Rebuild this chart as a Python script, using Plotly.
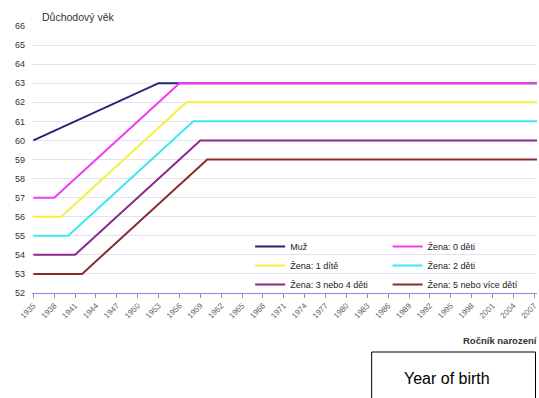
import plotly.graph_objects as go

# Retirement age by year of birth (breakpoints of each schedule)
muz_years = [1935, 1953, 2010]
muz_age = [60, 63, 63]

zena0_years = [1935, 1938, 1956, 2010]
zena0_age = [57, 57, 63, 63]

zena1_years = [1935, 1939, 1957, 2010]
zena1_age = [56, 56, 62, 62]

zena2_years = [1935, 1940, 1958, 2010]
zena2_age = [55, 55, 61, 61]

zena34_years = [1935, 1941, 1959, 2010]
zena34_age = [54, 54, 60, 60]

zena5_years = [1935, 1942, 1960, 2010]
zena5_age = [53, 53, 59, 59]

x_ticks = list(range(1935, 2008, 3))
y_ticks = list(range(52, 67))

# name, years, ages, colour, legend column
series = [
    ("Muž", muz_years, muz_age, "#23237a", "legend"),
    ("Žena: 0 děti", zena0_years, zena0_age, "#f03cf0", "legend2"),
    ("Žena: 1 dítě", zena1_years, zena1_age, "#f4f03c", "legend"),
    ("Žena: 2 děti", zena2_years, zena2_age, "#3ce8f0", "legend2"),
    ("Žena: 3 nebo 4 děti", zena34_years, zena34_age, "#8a2a8a", "legend"),
    ("Žena: 5 nebo více dětí", zena5_years, zena5_age, "#8c2b2b", "legend2"),
]

fig = go.Figure()
for name, xs, ys, color, leg in series:
    fig.add_trace(go.Scatter(
        x=xs, y=ys, mode="lines", name=name,
        line=dict(color=color, width=2),
        hoverinfo="skip", legend=leg,
    ))

W, H = 539, 398
left, right, top, bottom = 32, 0, 26, 105
pw, ph = W - left - right, H - top - bottom
x0, x1 = 1934.8, 2007.4


def px_x(p):
    return (p - left) / pw


def px_y(p):
    return (H - bottom - p) / ph


legend_style = dict(
    orientation="v",
    yanchor="top", xanchor="left",
    bgcolor="rgba(0,0,0,0)",
    font=dict(size=9, color="#222222"),
    itemwidth=30,
    itemclick=False, itemdoubleclick=False,
)

fig.update_layout(
    width=W, height=H,
    margin=dict(l=left, r=right, t=top, b=bottom, pad=0),
    paper_bgcolor="white", plot_bgcolor="white",
    font=dict(family="Arial, Liberation Sans, sans-serif", color="#333333"),
    showlegend=True,
    legend=dict(legend_style, x=px_x(251), y=px_y(232)),
    legend2=dict(legend_style, x=px_x(389), y=px_y(232)),
    xaxis=dict(
        range=[x0, x1],
        tickvals=x_ticks,
        ticktext=[str(v) for v in x_ticks],
        tickangle=-45,
        tickfont=dict(size=8, color="#666666"),
        ticks="outside", ticklen=4, tickcolor="#8a8ae0",
        ticklabeloverflow="allow",
        showline=True, linecolor="#8a8ae0", linewidth=1,
        showgrid=False, zeroline=False,
    ),
    yaxis=dict(
        range=[52, 66],
        tickvals=y_ticks,
        tickfont=dict(size=9, color="#333333"),
        showgrid=True, gridcolor="#e2e2f5", gridwidth=1,
        showline=False, zeroline=False, ticks="",
        ticklabelstandoff=6,
    ),
)

# White panel behind the legend, hiding the gridlines there
fig.add_shape(
    type="rect", xref="paper", yref="paper", layer="between",
    x0=px_x(270), x1=1.0, y0=px_y(290), y1=px_y(240),
    line=dict(width=0), fillcolor="white",
)

fig.add_annotation(
    text="Důchodový věk", xref="paper", yref="paper",
    x=px_x(40), y=px_y(17),
    xanchor="left", yanchor="middle", showarrow=False,
    font=dict(size=10.5, color="#333333"),
)

fig.add_annotation(
    text="<b>Ročník narození</b>", xref="paper", yref="paper",
    x=px_x(463), y=px_y(340),
    xanchor="left", yanchor="middle", showarrow=False,
    font=dict(size=9.5, color="#333333"),
)

# Framed English caption below the axis
fig.add_shape(
    type="rect", xref="paper", yref="paper",
    x0=px_x(373), x1=px_x(537.5),
    y0=px_y(H + 5), y1=px_y(352),
    line=dict(color="black", width=1), fillcolor="white",
)
fig.add_annotation(
    text="Year of birth", xref="paper", yref="paper",
    x=px_x(449), y=px_y(378),
    xanchor="center", yanchor="middle", showarrow=False,
    font=dict(size=16, color="black"),
)

fig.write_html("out.html")
